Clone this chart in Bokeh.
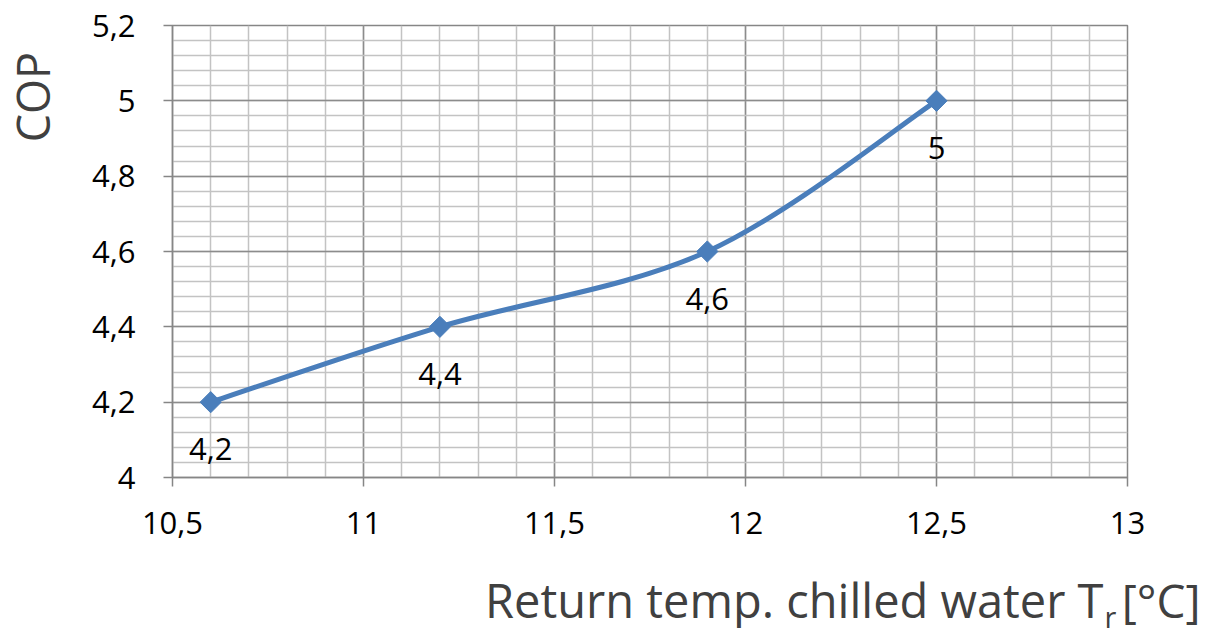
import numpy as np
from bokeh.plotting import figure
from bokeh.layouts import row, column
from bokeh.models import FixedTicker, ColumnDataSource
from bokeh.core.properties import value
from bokeh.embed import file_html
from bokeh.resources import INLINE

# ---- data ----
return_temp = [10.6, 11.2, 11.9, 12.5]
cop = [4.2, 4.4, 4.6, 5.0]
point_labels = ["4,2", "4,4", "4,6", "5"]

x_ticks = [10.5, 11.0, 11.5, 12.0, 12.5, 13.0]
x_tick_labels = ["10,5", "11", "11,5", "12", "12,5", "13"]
y_ticks = [4.0, 4.2, 4.4, 4.6, 4.8, 5.0, 5.2]
y_tick_labels = ["4", "4,2", "4,4", "4,6", "4,8", "5", "5,2"]

x_title_main = "Return temp. chilled water T"
x_title_sub = "r"
x_title_unit = "[°C]"
y_title = "COP"

FONT = "Open Sans"
LINE_COLOR = "#4A7EBB"
TITLE_COLOR = "#404040"

W, H = 1205, 628
LEFT_W = 60          # strip holding the y title
BOTTOM_H = 72        # strip holding the x title
MAIN_W, MAIN_H = W - LEFT_W, H - BOTTOM_H


def blank_fig(width, height, xr, yr):
    f = figure(width=width, height=height, output_backend="svg",
               toolbar_location=None, x_range=xr, y_range=yr,
               x_axis_type=None, y_axis_type=None,
               min_border=0, min_border_left=0, min_border_right=0,
               min_border_top=0, min_border_bottom=0)
    f.outline_line_color = None
    f.background_fill_color = "white"
    f.border_fill_color = "white"
    f.xgrid.visible = False
    f.ygrid.visible = False
    return f


# ---- main chart ----
p = figure(width=MAIN_W, height=MAIN_H, output_backend="svg",
           toolbar_location=None,
           x_range=(10.5, 13.0), y_range=(4.0, 5.2),
           min_border_left=172 - LEFT_W, min_border_right=78,
           min_border_top=25, min_border_bottom=MAIN_H - 477)
p.background_fill_color = "white"
p.border_fill_color = "white"
p.outline_line_color = "#868686"
p.outline_line_width = 1.5

x_minor = [round(v, 2) for v in np.arange(10.5, 13.0001, 0.1)]
y_minor = [round(v, 3) for v in np.arange(4.0, 5.2001, 0.04)]
p.xaxis.ticker = FixedTicker(ticks=x_ticks, minor_ticks=x_minor)
p.yaxis.ticker = FixedTicker(ticks=y_ticks, minor_ticks=y_minor)
p.xaxis.major_label_overrides = {t: l for t, l in zip(x_ticks, x_tick_labels)}
p.yaxis.major_label_overrides = {t: l for t, l in zip(y_ticks, y_tick_labels)}

for ax in (p.xaxis, p.yaxis):
    ax.axis_line_color = "#868686"
    ax.axis_line_width = 1.5
    ax.major_tick_line_color = "#868686"
    ax.major_tick_line_width = 1.5
    ax.major_tick_out = 9
    ax.major_tick_in = 0
    ax.minor_tick_out = 0
    ax.minor_tick_in = 0
    ax.major_label_text_font = FONT
    ax.major_label_text_font_size = "31px"
    ax.major_label_text_color = "black"
p.xaxis.major_label_standoff = 25
p.yaxis.major_label_standoff = 28

p.xgrid.grid_line_color = "#8c8c8c"
p.xgrid.grid_line_width = 1.5
p.ygrid.grid_line_color = "#8c8c8c"
p.ygrid.grid_line_width = 1.5
p.xgrid.minor_grid_line_color = "#c3c3c3"
p.xgrid.minor_grid_line_width = 1.5
p.ygrid.minor_grid_line_color = "#c3c3c3"
p.ygrid.minor_grid_line_width = 1.5

# smoothed line (Catmull-Rom Bezier through data points)
xs = np.array(return_temp)
ys = np.array(cop)
xp = np.concatenate([[xs[0]], xs, [xs[-1]]])
yp = np.concatenate([[ys[0]], ys, [ys[-1]]])
n = len(xs)
seg = dict(
    x0=xs[:-1], y0=ys[:-1], x1=xs[1:], y1=ys[1:],
    cx0=xs[:-1] + (xp[2:n + 1] - xp[0:n - 1]) / 6,
    cy0=ys[:-1] + (yp[2:n + 1] - yp[0:n - 1]) / 6,
    cx1=xs[1:] - (xp[3:n + 2] - xp[1:n]) / 6,
    cy1=ys[1:] - (yp[3:n + 2] - yp[1:n]) / 6,
)
p.bezier(x0="x0", y0="y0", x1="x1", y1="y1", cx0="cx0", cy0="cy0",
         cx1="cx1", cy1="cy1", source=ColumnDataSource(seg),
         line_color=LINE_COLOR, line_width=5)

src = ColumnDataSource(dict(x=return_temp, y=cop, lab=point_labels))
p.scatter("x", "y", source=src, marker="square", size=15, angle=np.pi / 4,
          fill_color=LINE_COLOR, line_color=LINE_COLOR)
p.text("x", "y", text="lab", source=src, x_offset=0, y_offset=47,
       text_align="center", text_baseline="middle",
       text_font=value(FONT), text_font_size="31px", text_color="black")

# ---- y title strip (pixel coordinates, y downwards) ----
left = blank_fig(LEFT_W, MAIN_H, (0, LEFT_W), (MAIN_H, 0))
left.text(x=[32], y=[88], text=[y_title], angle=np.pi / 2,
          text_align="center", text_baseline="middle",
          text_font=value(FONT), text_font_size="45px",
          text_color=TITLE_COLOR)

# ---- x title strip (pixel coordinates of the page, y downwards) ----
bottom = blank_fig(W, BOTTOM_H, (0, W), (H, MAIN_H))
bottom.text(x=[1103], y=[599], text=[x_title_main], text_align="right",
            text_baseline="middle", text_font=value(FONT),
            text_font_size="47px", text_color=TITLE_COLOR)
bottom.text(x=[1104], y=[616], text=[x_title_sub], text_align="left",
            text_baseline="middle", text_font=value(FONT),
            text_font_size="29px", text_color=TITLE_COLOR)
bottom.text(x=[1200], y=[599], text=[x_title_unit], text_align="right",
            text_baseline="middle", text_font=value(FONT),
            text_font_size="46px", text_color=TITLE_COLOR)

layout = column(row(left, p), bottom)
open("out.html", "w").write(file_html(layout, INLINE))
